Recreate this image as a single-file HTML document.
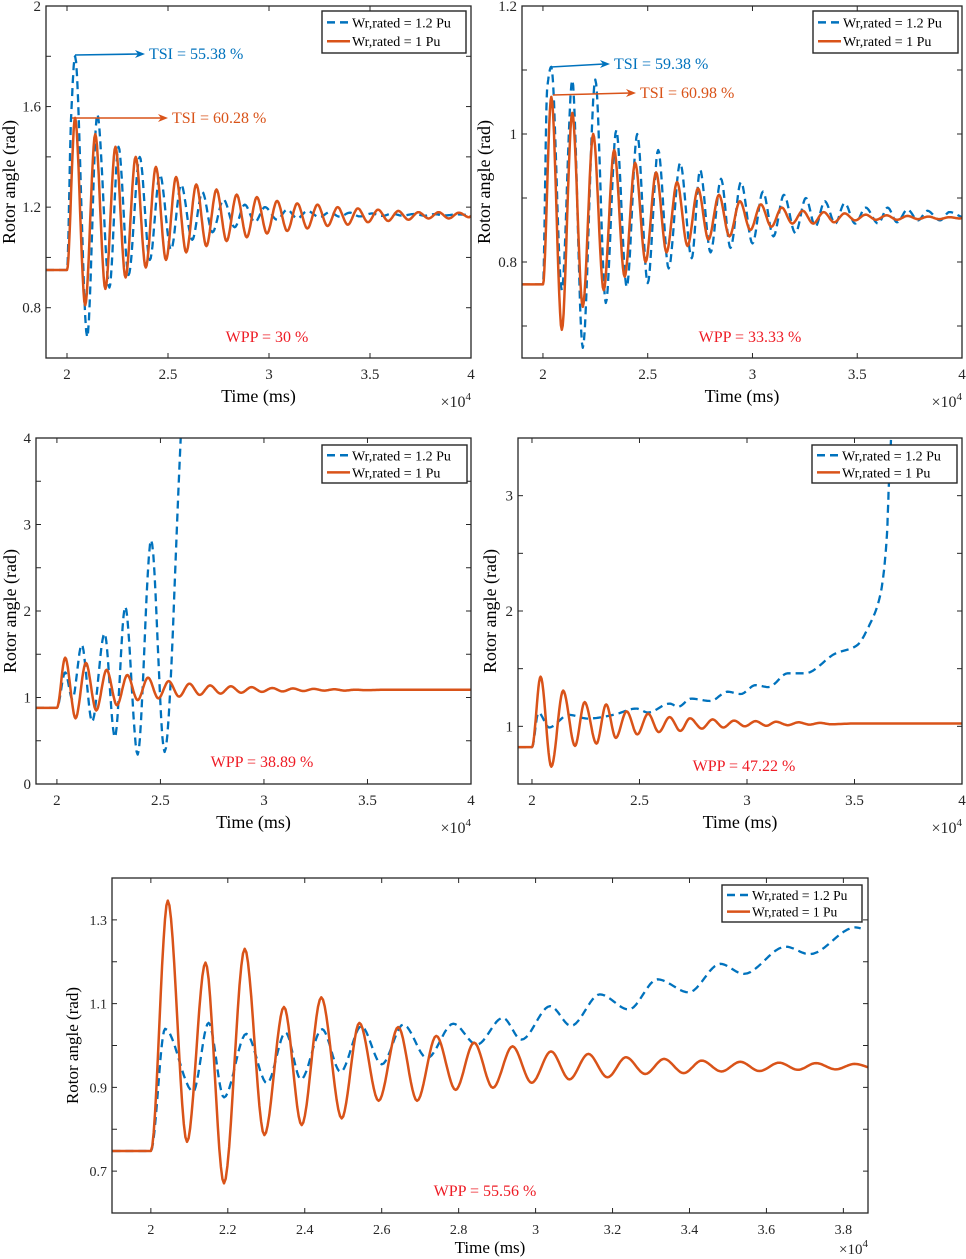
<!DOCTYPE html>
<html><head><meta charset="utf-8"><style>
html,body{margin:0;padding:0;background:#fff;}
svg{display:block;font-family:"Liberation Serif",serif;}
</style></head><body>
<svg id="fig" width="966" height="1259" viewBox="0 0 966 1259" xmlns="http://www.w3.org/2000/svg"></svg>
<script>
// ---------- Data (time in x10^4 ms, rotor angle in rad) ----------
const p1OrangeT=[1.896,2.0,2.04,2.09,2.14,2.19,2.24,2.29,2.34,2.39,2.44,2.49,2.54,2.59,2.64,2.69,2.74,2.79,2.84,2.89,2.94,2.99,3.04,3.09,3.14,3.19,3.24,3.29,3.34,3.39,3.44,3.49,3.54,3.59,3.64,3.69,3.74,3.79,3.84,3.89,3.94,3.99,4.0];
const p1OrangeV=[0.95,0.95,1.555,0.81,1.49,0.875,1.44,0.92,1.40,0.96,1.36,0.99,1.32,1.02,1.29,1.045,1.27,1.065,1.25,1.08,1.24,1.095,1.225,1.105,1.215,1.115,1.21,1.125,1.20,1.13,1.195,1.14,1.19,1.145,1.185,1.15,1.18,1.155,1.18,1.155,1.178,1.16,1.165];
const p1BlueT=[1.896,2.0,2.02,2.04,2.10,2.15,2.21,2.255,2.305,2.36,2.41,2.46,2.515,2.565,2.62,2.67,2.72,2.775,2.83,2.88,2.93,2.98,3.04,3.09,3.14,3.19,3.25,3.30,3.35,3.40,3.45,3.51,3.56,3.61,3.66,3.72,3.77,3.82,3.87,3.93,4.0];
const p1BlueV=[0.95,0.95,1.55,1.80,0.683,1.57,0.88,1.44,0.93,1.40,0.99,1.33,1.03,1.29,1.07,1.26,1.10,1.23,1.12,1.21,1.14,1.20,1.15,1.19,1.155,1.185,1.16,1.18,1.162,1.178,1.163,1.175,1.165,1.174,1.166,1.173,1.166,1.172,1.167,1.171,1.168];

const p2OrangeT=[1.9,2.0,2.04,2.09,2.14,2.19,2.24,2.29,2.34,2.39,2.44,2.49,2.54,2.59,2.64,2.69,2.74,2.79,2.84,2.89,2.94,2.99,3.04,3.09,3.14,3.19,3.24,3.29,3.34,3.39,3.44,3.49,3.54,3.59,3.64,3.69,3.74,3.79,3.84,3.89,3.94,3.99,4.0];
const p2OrangeV=[0.765,0.765,1.058,0.694,1.033,0.73,1.0,0.756,0.975,0.777,0.955,0.80,0.94,0.815,0.925,0.825,0.915,0.835,0.905,0.84,0.895,0.85,0.89,0.855,0.885,0.86,0.88,0.86,0.878,0.862,0.876,0.865,0.874,0.866,0.873,0.866,0.872,0.867,0.871,0.867,0.870,0.868,0.869];
const p2BlueT=[1.9,2.0,2.02,2.04,2.09,2.14,2.19,2.25,2.30,2.35,2.40,2.45,2.50,2.55,2.60,2.655,2.71,2.75,2.80,2.85,2.895,2.945,3.0,3.05,3.10,3.15,3.205,3.255,3.30,3.345,3.395,3.44,3.49,3.54,3.60,3.645,3.69,3.74,3.79,3.835,3.895,3.94,4.0];
const p2BlueV=[0.765,0.765,1.07,1.105,0.756,1.084,0.666,1.085,0.736,1.006,0.761,1.0,0.767,0.975,0.79,0.955,0.806,0.944,0.815,0.93,0.822,0.925,0.829,0.91,0.84,0.905,0.845,0.90,0.855,0.895,0.86,0.892,0.86,0.885,0.86,0.885,0.862,0.882,0.865,0.88,0.865,0.878,0.87];

const p3OrangeT=[1.899,2.0,2.04,2.09,2.14,2.19,2.24,2.29,2.34,2.39,2.44,2.49,2.54,2.59,2.64,2.69,2.74,2.79,2.84,2.89,2.94,2.99,3.04,3.09,3.14,3.19,3.24,3.29,3.34,3.39,3.44,3.49,3.6,4.0];
const p3OrangeV=[0.88,0.88,1.46,0.76,1.40,0.85,1.32,0.91,1.26,0.97,1.23,0.99,1.19,1.01,1.16,1.03,1.14,1.045,1.13,1.055,1.12,1.065,1.11,1.07,1.105,1.075,1.10,1.08,1.095,1.08,1.09,1.085,1.09,1.09];
const p3BlueT=[1.899,2.0,2.04,2.075,2.12,2.17,2.23,2.28,2.33,2.39,2.455,2.52,2.60,2.63];
const p3BlueV=[0.88,0.88,1.29,0.98,1.61,0.72,1.74,0.54,2.05,0.34,2.82,0.37,4.1,5.5];

const p4OrangeT=[1.935,2.0,2.04,2.09,2.145,2.20,2.245,2.30,2.345,2.39,2.44,2.49,2.54,2.59,2.64,2.69,2.735,2.79,2.84,2.89,2.94,2.99,3.04,3.09,3.135,3.19,3.24,3.29,3.34,3.39,3.5,3.7,4.0];
const p4OrangeV=[0.82,0.82,1.43,0.65,1.31,0.83,1.21,0.85,1.19,0.90,1.13,0.93,1.11,0.95,1.08,0.96,1.07,0.98,1.06,0.99,1.05,1.00,1.045,1.005,1.04,1.01,1.035,1.015,1.03,1.018,1.025,1.025,1.025];
const p4BlueT=[1.935,2.0,2.03,2.08,2.17,2.26,2.38,2.485,2.54,2.64,2.68,2.74,2.83,2.91,2.97,3.04,3.10,3.19,3.27,3.41,3.51,3.57,3.62,3.65,3.66,3.67,3.69];
const p4BlueV=[0.82,0.82,1.12,0.99,1.10,1.067,1.10,1.154,1.12,1.197,1.17,1.24,1.22,1.30,1.28,1.357,1.34,1.46,1.46,1.63,1.70,1.88,2.14,2.63,3.10,3.5,4.4];

const p5OrangeT=[1.9,2.0,2.044,2.094,2.142,2.19,2.244,2.295,2.346,2.392,2.443,2.496,2.542,2.592,2.643,2.692,2.742,2.792,2.84,2.889,2.94,2.99,3.04,3.088,3.137,3.187,3.235,3.285,3.334,3.385,3.432,3.483,3.532,3.582,3.633,3.682,3.729,3.78,3.829,3.872];
const p5OrangeV=[0.748,0.748,1.346,0.77,1.198,0.671,1.231,0.786,1.092,0.81,1.115,0.826,1.054,0.868,1.044,0.868,1.023,0.894,1.007,0.899,0.998,0.911,0.986,0.919,0.98,0.924,0.972,0.932,0.968,0.934,0.964,0.938,0.961,0.939,0.959,0.942,0.958,0.943,0.956,0.946];
const p5BlueT=[1.9,2.0,2.037,2.11,2.15,2.19,2.248,2.302,2.35,2.39,2.445,2.493,2.547,2.60,2.656,2.718,2.786,2.847,2.915,2.963,3.038,3.092,3.167,3.242,3.317,3.398,3.48,3.541,3.65,3.712,3.831,3.845];
const p5BlueV=[0.748,0.748,1.04,0.89,1.054,0.876,1.028,0.91,1.031,0.919,1.039,0.937,1.046,0.955,1.05,0.97,1.052,1.002,1.066,1.014,1.094,1.047,1.122,1.086,1.158,1.127,1.195,1.171,1.236,1.218,1.282,1.28];

const xTicks1=[2,2.5,3,3.5,4];
const xTickLabels1=["2","2.5","3","3.5","4"];
const xTicks5=[2,2.2,2.4,2.6,2.8,3,3.2,3.4,3.6,3.8];
const xTickLabels5=["2","2.2","2.4","2.6","2.8","3","3.2","3.4","3.6","3.8"];
const p1YTicks=[0.8,1.0,1.2,1.4,1.6,1.8,2.0];
const p1YLabels=["0.8","","1.2","","1.6","","2"];
const p2YTicks=[0.7,0.8,0.9,1.0,1.1,1.2];
const p2YLabels=["","0.8","","1","","1.2"];
const p3YTicks=[0,0.5,1,1.5,2,2.5,3,3.5,4];
const p3YLabels=["0","","1","","2","","3","","4"];
const p4YTicks=[1,1.5,2,2.5,3];
const p4YLabels=["1","","2","","3"];
const p5YTicks=[0.7,0.8,0.9,1.0,1.1,1.2,1.3];
const p5YLabels=["0.7","","0.9","","1.1","","1.3"];

const BLUE="#0072BD", ORANGE="#D95319", RED="#EE1C25";
const NS="http://www.w3.org/2000/svg";
const fig=document.getElementById('fig');
function mk(tag,attrs,parent){const e=document.createElementNS(NS,tag);for(const k in attrs)e.setAttribute(k,attrs[k]);(parent||fig).appendChild(e);return e;}

function monotone(xs,ys,n){
  const N=xs.length,d=[],m=new Array(N);
  for(let i=0;i<N-1;i++)d.push((ys[i+1]-ys[i])/(xs[i+1]-xs[i]));
  m[0]=d[0];m[N-1]=d[N-2];
  for(let i=1;i<N-1;i++){ if(d[i-1]*d[i]<=0)m[i]=0; else {const w1=2*(xs[i+1]-xs[i])+(xs[i]-xs[i-1]),w2=(xs[i+1]-xs[i])+2*(xs[i]-xs[i-1]);m[i]=(w1+w2)/(w1/d[i-1]+w2/d[i]);} }
  const out=[];
  for(let i=0;i<N-1;i++){const h=xs[i+1]-xs[i];
    for(let j=0;j<n;j++){const t=j/n,t2=t*t,t3=t2*t;
      const y=(2*t3-3*t2+1)*ys[i]+(t3-2*t2+t)*h*m[i]+(-2*t3+3*t2)*ys[i+1]+(t3-t2)*h*m[i+1];
      out.push([xs[i]+t*h,y]);}}
  out.push([xs[N-1],ys[N-1]]);return out;
}

let clipId=0;
function plot(c){
  const g=mk('g',{});
  
  
  const sx=v=>c.L+(v-c.x0)/(c.x1-c.x0)*(c.R-c.L);
  const sy=v=>c.B-(v-c.y0)/(c.y1-c.y0)*(c.B-c.T);
  const cid='clip'+(clipId++);
  const cp=mk('clipPath',{id:cid},g);mk('rect',{x:c.L,y:c.T,width:c.R-c.L,height:c.B-c.T},cp);
  const tk=mk('g',{stroke:'#262626','stroke-width':1},g);
  
  c.xt.forEach((v,i)=>{const x=sx(v);
    mk('line',{x1:x,y1:c.B,x2:x,y2:c.B-5},tk);mk('line',{x1:x,y1:c.T,x2:x,y2:c.T+5},tk);
    const t=mk('text',{x:x,y:c.B+21,'text-anchor':'middle','font-size':c.fs,fill:'#262626',stroke:'none'},g);
    t.textContent=c.xl[i];});
  c.yt.forEach((v,i)=>{const y=sy(v);
    mk('line',{x1:c.L,y1:y,x2:c.L+5,y2:y},tk);mk('line',{x1:c.R,y1:y,x2:c.R-5,y2:y},tk);
    if(c.yl[i]){const t=mk('text',{x:c.L-5,y:y+5,'text-anchor':'end','font-size':c.fs,fill:'#262626'},g);
      t.textContent=c.yl[i];}});
  const lg=mk('g',{'clip-path':'url(#'+cid+')'},g);
  c.series.forEach(s=>{const pts=monotone(s.t,s.v,12);
    const p=mk('path',{d:'M'+pts.map(q=>sx(q[0]).toFixed(1)+','+sy(q[1]).toFixed(1)).join('L'),fill:'none',stroke:s.color,'stroke-width':s.w,'stroke-linejoin':'round','stroke-dasharray':s.dash||'none'},lg);
    });
  const bx=mk('rect',{x:c.L,y:c.T,width:c.R-c.L,height:c.B-c.T,fill:'none',stroke:'#262626','stroke-width':1.3},g);
  
  const xt=mk('text',{x:(c.L+c.R)/2,y:Math.min(c.B+44,1253),'text-anchor':'middle','font-size':c.tfs,fill:'#000'},g);
  xt.textContent='Time (ms)';
  const ex=mk('text',{x:c.R,y:Math.min(c.B+49,1254),'text-anchor':'end','font-size':c.fs+1,fill:'#262626'},g);
  
  ex.innerHTML='×10<tspan dy="-7" font-size="11">4</tspan>';
  const yc=(c.T+c.B)/2;
  const yt=mk('text',{x:c.ylx,y:yc,'text-anchor':'middle','font-size':c.tfs,fill:'#000',transform:'rotate(-90 '+c.ylx+' '+yc+')'},g);
  yt.textContent='Rotor angle (rad)';
  const L=c.leg;
  const lgd=mk('g',{},g);
  mk('rect',{x:L.x,y:L.y,width:L.w,height:L.h,fill:'#fff',stroke:'#262626','stroke-width':1.4},lgd);
  [[BLUE,'8,5','Wr,rated = 1.2 Pu',L.h*0.27],[ORANGE,'none','Wr,rated = 1 Pu',L.h*0.72]].forEach((e,i)=>{
    const en=mk('g',{},lgd);
    mk('line',{x1:L.x+5,y1:L.y+e[3],x2:L.x+28,y2:L.y+e[3],stroke:e[0],'stroke-width':2.5,'stroke-dasharray':e[1]},en);
    const t=mk('text',{x:L.x+30,y:L.y+e[3]+5,'font-size':L.fs,fill:'#000'},en);t.textContent=e[2];});
  const w=mk('text',{x:c.wpp[0],y:c.wpp[1],'text-anchor':'middle','font-size':16,fill:RED},g);
  w.textContent=c.wpp[2];
  (c.tsi||[]).forEach(a=>{
    const ag=mk('g',{},g);
    mk('line',{x1:a.x1,y1:a.y1,x2:a.x2-6,y2:a.y2,stroke:a.color,'stroke-width':1.6},ag);
    mk('path',{d:`M${a.x2},${a.y2} L${a.x2-10},${a.y2-4} L${a.x2-7},${a.y2} L${a.x2-10},${a.y2+4}Z`,fill:a.color},ag);
    const t=mk('text',{x:a.x2+4,y:a.y2+5,'font-size':16,fill:a.color},ag);t.textContent=a.text;});
}

const dashB='8,5';
plot({name:'plot-wpp-30',L:46,R:471,T:6,B:358,x0:1.896,x1:4,y0:0.6,y1:2,xt:xTicks1,xl:xTickLabels1,yt:p1YTicks,yl:p1YLabels,fs:15,tfs:18,ylx:15,
  series:[{name:'series-1-2pu',t:p1BlueT,v:p1BlueV,color:BLUE,w:2.3,dash:dashB},{name:'series-1pu',t:p1OrangeT,v:p1OrangeV,color:ORANGE,w:2.5}],
  leg:{x:322,y:11,w:144,h:42,fs:14},wpp:[267,342,'WPP = 30 %'],
  tsi:[{x1:75,y1:55,x2:145,y2:54,color:BLUE,text:'TSI = 55.38 %'},{x1:72,y1:118,x2:168,y2:118,color:ORANGE,text:'TSI = 60.28 %'}]});
plot({name:'plot-wpp-33',L:522,R:962,T:6,B:358,x0:1.9,x1:4,y0:0.65,y1:1.2,xt:xTicks1,xl:xTickLabels1,yt:p2YTicks,yl:p2YLabels,fs:15,tfs:18,ylx:490,
  series:[{name:'series-1-2pu',t:p2BlueT,v:p2BlueV,color:BLUE,w:2.3,dash:dashB},{name:'series-1pu',t:p2OrangeT,v:p2OrangeV,color:ORANGE,w:2.5}],
  leg:{x:813,y:11,w:145,h:42,fs:14},wpp:[750,342,'WPP = 33.33 %'],
  tsi:[{x1:551,y1:67,x2:610,y2:64,color:BLUE,text:'TSI = 59.38 %'},{x1:553,y1:95,x2:636,y2:93,color:ORANGE,text:'TSI = 60.98 %'}]});
plot({name:'plot-wpp-38',L:36,R:471,T:438,B:784,x0:1.899,x1:4,y0:0,y1:4,xt:xTicks1,xl:xTickLabels1,yt:p3YTicks,yl:p3YLabels,fs:15,tfs:18,ylx:16,
  series:[{name:'series-1-2pu',t:p3BlueT,v:p3BlueV,color:BLUE,w:2.3,dash:dashB},{name:'series-1pu',t:p3OrangeT,v:p3OrangeV,color:ORANGE,w:2.5}],
  leg:{x:322,y:445,w:145,h:38,fs:14},wpp:[262,767,'WPP = 38.89 %']});
plot({name:'plot-wpp-47',L:518,R:962,T:438,B:784,x0:1.935,x1:4,y0:0.5,y1:3.5,xt:xTicks1,xl:xTickLabels1,yt:p4YTicks,yl:p4YLabels,fs:15,tfs:18,ylx:496,
  series:[{name:'series-1-2pu',t:p4BlueT,v:p4BlueV,color:BLUE,w:2.3,dash:dashB},{name:'series-1pu',t:p4OrangeT,v:p4OrangeV,color:ORANGE,w:2.5}],
  leg:{x:812,y:445,w:145,h:38,fs:14},wpp:[744,771,'WPP = 47.22 %']});
plot({name:'plot-wpp-55',L:112,R:868,T:878,B:1213,x0:1.899,x1:3.864,y0:0.6,y1:1.4,xt:xTicks5,xl:xTickLabels5,yt:p5YTicks,yl:p5YLabels,fs:14,tfs:17,ylx:78,
  series:[{name:'series-1-2pu',t:p5BlueT,v:p5BlueV,color:BLUE,w:2.3,dash:dashB},{name:'series-1pu',t:p5OrangeT,v:p5OrangeV,color:ORANGE,w:2.5}],
  leg:{x:722,y:885,w:140,h:37,fs:13.5},wpp:[485,1196,'WPP = 55.56 %']});
</script>
</body></html>
